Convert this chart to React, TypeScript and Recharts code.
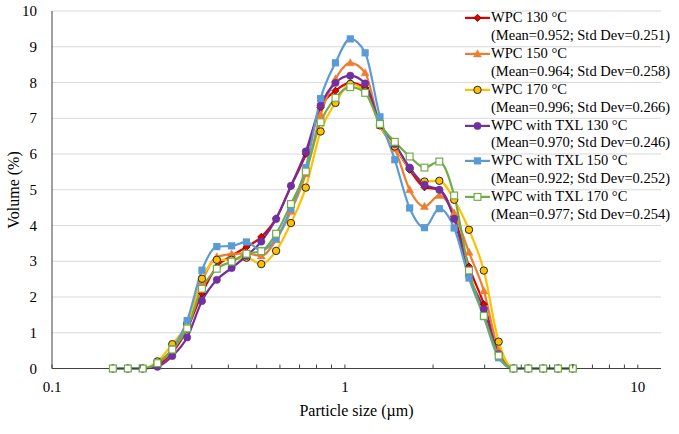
import React from 'react';
import { LineChart, Line, XAxis, YAxis, CartesianGrid, Label } from 'recharts';

// Particle size bins (µm)
const sizes = [
  0.1614, 0.1815, 0.2039, 0.2291, 0.2574, 0.2893, 0.3251, 0.3653, 0.4104, 0.4612,
  0.5182, 0.5823, 0.6543, 0.7353, 0.8262, 0.9285, 1.0433, 1.1724, 1.3174, 1.4803,
  1.6634, 1.8693, 2.1005, 2.3605, 2.6524, 2.9806, 3.3492, 3.7635, 4.229, 4.7522,
  5.34, 6.0005,
];

// Volume (%) per series
const wpc130 = [0, 0, 0, 0.1, 0.45, 1.1, 2.1, 2.85, 3.15, 3.4, 3.68, 4.2, 5.1, 6.0, 7.3, 7.77, 7.99, 7.85, 6.8, 6.2, 5.56, 5.07, 5.0, 4.25, 2.85, 1.8, 0.45, 0, 0, 0, 0, 0];
const wpc150 = [0, 0, 0, 0.15, 0.5, 1.2, 2.43, 3.12, 3.2, 3.22, 3.15, 3.6, 4.4, 5.45, 7.1, 8.1, 8.55, 8.27, 6.8, 6.15, 5.0, 4.53, 4.84, 4.35, 3.25, 2.17, 0.5, 0, 0, 0, 0, 0];
const wpc170 = [0, 0, 0, 0.2, 0.68, 1.25, 2.51, 3.04, 3.04, 3.1, 2.92, 3.29, 4.07, 5.06, 6.63, 7.43, 7.96, 7.75, 6.8, 6.21, 5.6, 5.23, 5.25, 4.72, 3.88, 2.74, 0.75, 0, 0, 0, 0, 0];
const txl130 = [0, 0, 0, 0.05, 0.35, 0.87, 1.89, 2.48, 2.81, 3.15, 3.55, 4.18, 5.11, 6.07, 7.36, 7.99, 8.19, 7.97, 6.85, 6.28, 5.62, 5.14, 5.0, 4.19, 2.6, 1.66, 0.4, 0, 0, 0, 0, 0];
const txl150 = [0, 0, 0, 0.15, 0.55, 1.34, 2.75, 3.41, 3.43, 3.54, 3.3, 3.63, 4.47, 5.62, 7.55, 8.55, 9.22, 8.83, 7.04, 5.84, 4.49, 3.94, 4.47, 3.93, 2.53, 1.45, 0.3, 0, 0, 0, 0, 0];
const txl170 = [0, 0, 0, 0.15, 0.53, 1.12, 2.23, 2.79, 2.99, 3.21, 3.28, 3.77, 4.6, 5.51, 6.89, 7.57, 7.87, 7.71, 6.84, 6.34, 5.93, 5.62, 5.79, 4.84, 2.74, 1.47, 0.36, 0, 0, 0, 0, 0];

const seriesNames = [
  'WPC 130 °C',
  'WPC 150 °C',
  'WPC 170 °C',
  'WPC with TXL 130 °C',
  'WPC with TXL 150 °C',
  'WPC with TXL 170 °C',
];
const seriesStats = [
  '(Mean=0.952; Std Dev=0.251)',
  '(Mean=0.964; Std Dev=0.258)',
  '(Mean=0.996; Std Dev=0.266)',
  '(Mean=0.970; Std Dev=0.246)',
  '(Mean=0.922; Std Dev=0.252)',
  '(Mean=0.977; Std Dev=0.254)',
];
const seriesKeys = ['wpc130', 'wpc150', 'wpc170', 'txl130', 'txl150', 'txl170'];
const seriesValues = [wpc130, wpc150, wpc170, txl130, txl150, txl170];
const seriesColors = ['#E00000', '#ED7D31', '#FFC000', '#7030A0', '#5B9BD5', '#70AD47'];
const seriesMarkers = ['diamond', 'triangle', 'circleOutline', 'circle', 'square', 'squareHollow'];

const yTicks = [0, 1, 2, 3, 4, 5, 6, 7, 8, 9, 10];
const xTicks = [0.1, 0.2, 0.3, 0.4, 0.5, 0.6, 0.7, 0.8, 0.9, 1, 2, 3, 4, 5, 6, 7, 8, 9, 10];
const xMajor = [0.1, 1, 10];

const data = sizes.map((x, i) => {
  const row: Record<string, number> = { x };
  seriesKeys.forEach((k, j) => {
    row[k] = seriesValues[j][i];
  });
  return row;
});

const FONT = '"Liberation Serif", "Times New Roman", serif';
const AXIS = '#404040';

function Marker({ kind, cx, cy, color }: { kind: string; cx: number; cy: number; color: string }) {
  if (cx == null || cy == null) return null;
  switch (kind) {
    case 'diamond':
      return (
        <path
          d={`M${cx},${cy - 3.6}L${cx + 3.6},${cy}L${cx},${cy + 3.6}L${cx - 3.6},${cy}Z`}
          fill={color}
          stroke="#5a0000"
          strokeWidth={0.8}
        />
      );
    case 'triangle':
      return (
        <polygon
          points={`${cx},${cy - 4.2} ${cx + 4},${cy + 3} ${cx - 4},${cy + 3}`}
          fill={color}
          stroke={color}
          strokeWidth={0.5}
        />
      );
    case 'circleOutline':
      return <circle cx={cx} cy={cy} r={3.7} fill={color} stroke="#2a2a2a" strokeWidth={1} />;
    case 'circle':
      return <circle cx={cx} cy={cy} r={3.7} fill={color} stroke={color} strokeWidth={0.5} />;
    case 'square':
      return <rect x={cx - 3.6} y={cy - 3.6} width={7.2} height={7.2} fill={color} />;
    case 'squareHollow':
      return (
        <rect x={cx - 3.4} y={cy - 3.4} width={6.8} height={6.8} fill="#ffffff" stroke={color} strokeWidth={1.2} />
      );
    default:
      return null;
  }
}

const XTick = (props: any) => {
  const { x, y, payload } = props;
  const v = payload.value as number;
  const major = xMajor.some((m) => Math.abs(m - v) < 1e-9);
  return (
    <g>
      <line x1={x} x2={x} y1={y} y2={y - 4} stroke={AXIS} strokeWidth={1} />
      {major && (
        <text x={x} y={y + 23.5} textAnchor="middle" fontFamily={FONT} fontSize={15} fill="#000">
          {String(v)}
        </text>
      )}
    </g>
  );
};

const YTick = (props: any) => {
  const { x, y, payload } = props;
  return (
    <text x={x - 15} y={y} textAnchor="end" dominantBaseline="central" fontFamily={FONT} fontSize={15} fill="#000">
      {String(payload.value)}
    </text>
  );
};

function LegendBox() {
  const left = 464;
  const top0 = 9.4;
  const pitch = 35.7;
  const lh = 17.8;
  return (
    <div style={{ position: 'absolute', left: 0, top: 0, width: 679, height: 434, pointerEvents: 'none' }}>
      {seriesNames.map((name, i) => {
        const top = top0 + i * pitch;
        return (
          <div key={name} style={{ position: 'absolute', left, top, width: 215 }}>
            <svg width={27} height={lh} style={{ position: 'absolute', left: 0, top: 0 }}>
              <line x1={1} x2={26} y1={lh / 2} y2={lh / 2} stroke={seriesColors[i]} strokeWidth={2.2} />
              <Marker kind={seriesMarkers[i]} cx={13.5} cy={lh / 2} color={seriesColors[i]} />
            </svg>
            <div
              style={{
                position: 'absolute',
                left: 27,
                top: 0,
                fontFamily: FONT,
                fontSize: 14.5,
                lineHeight: `${lh}px`,
                color: '#000',
                whiteSpace: 'nowrap',
              }}
            >
              <div>{name}</div>
              <div>{seriesStats[i]}</div>
            </div>
          </div>
        );
      })}
    </div>
  );
}

export default function App() {
  return (
    <div style={{ position: 'absolute', left: 0, top: 0, width: 679, height: 434, background: '#fff' }}>
      <LineChart width={679} height={434} data={data} margin={{ top: 11, right: 18, left: 0, bottom: 0 }}>
        <CartesianGrid vertical={false} stroke="#d9d9d9" strokeWidth={1} />
        <XAxis
          dataKey="x"
          type="number"
          scale="log"
          domain={[0.1, 12]}
          allowDataOverflow
          ticks={xTicks}
          interval={0}
          tick={<XTick />}
          tickLine={false}
          tickSize={0}
          tickMargin={0}
          height={65.5}
          axisLine={{ stroke: AXIS, strokeWidth: 1 }}
        >
          <Label
            content={() => (
              <text x={356.5} y={416} textAnchor="middle" fontFamily={FONT} fontSize={16} fill="#000">
                Particle size (µm)
              </text>
            )}
          />
        </XAxis>
        <YAxis
          type="number"
          domain={[0, 10]}
          ticks={yTicks}
          interval={0}
          width={52}
          tick={<YTick />}
          tickLine={false}
          tickSize={0}
          tickMargin={0}
          axisLine={{ stroke: AXIS, strokeWidth: 1 }}
        >
          <Label
            content={() => (
              <text
                x={13}
                y={190}
                transform="rotate(-90 13 190)"
                textAnchor="middle"
                dominantBaseline="central"
                fontFamily={FONT}
                fontSize={16}
                fill="#000"
              >
                Volume (%)
              </text>
            )}
          />
        </YAxis>
        {seriesKeys.map((k, j) => (
          <Line
            key={k}
            dataKey={k}
            name={seriesNames[j]}
            type="monotone"
            stroke={seriesColors[j]}
            strokeWidth={2.2}
            isAnimationActive={false}
            dot={(p: any) => (
              <Marker key={`${k}-${p.index}`} kind={seriesMarkers[j]} cx={p.cx} cy={p.cy} color={seriesColors[j]} />
            )}
            activeDot={false}
          />
        ))}
      </LineChart>
      <LegendBox />
    </div>
  );
}
